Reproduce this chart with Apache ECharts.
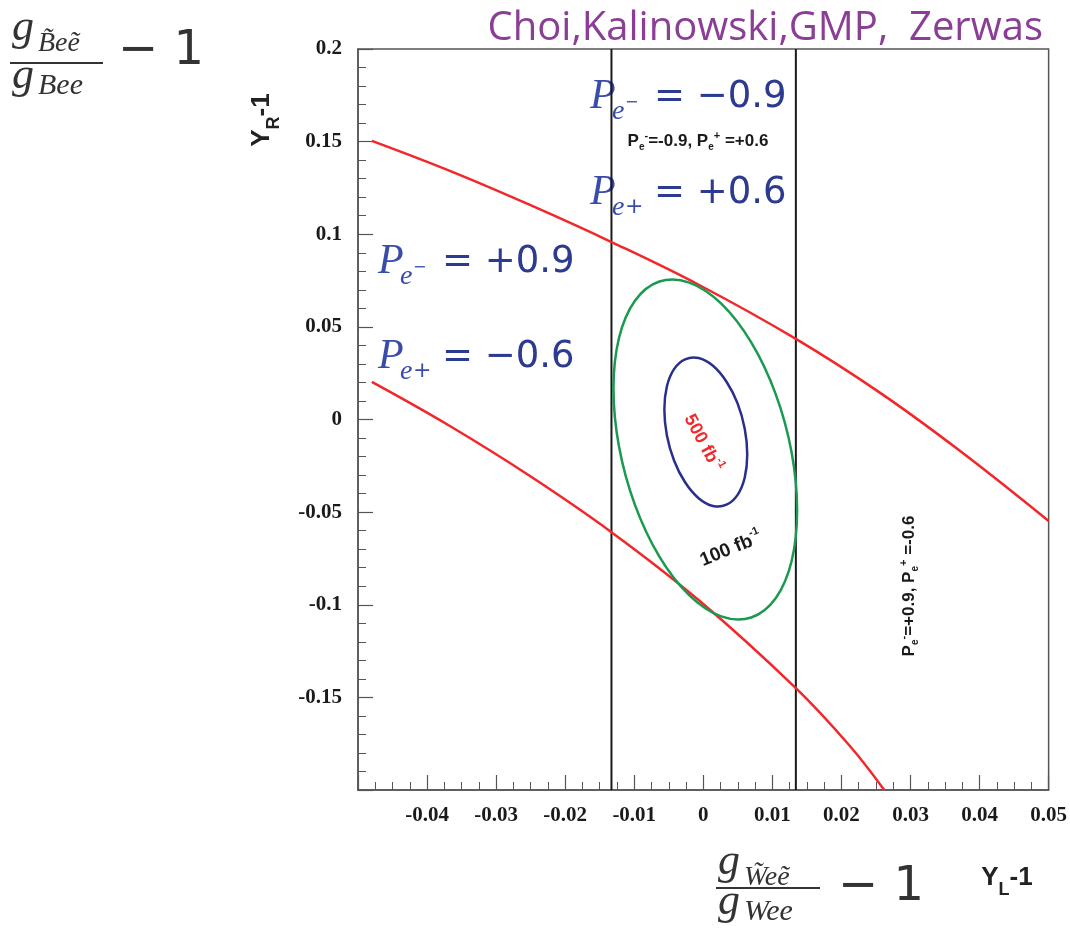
<!DOCTYPE html>
<html><head><meta charset="utf-8">
<script src="https://cdn.jsdelivr.net/npm/echarts@6/dist/echarts.min.js"></script>
<style>html,body{margin:0;padding:0;background:#fff}#c{width:1070px;height:938px}</style>
</head><body><div id="c"></div><script>
// ---- data ----
const xTickLabels = ['-0.04','-0.03','-0.02','-0.01','0','0.01','0.02','0.03','0.04','0.05'];
const yTickLabels = ['-0.15','-0.1','-0.05','0','0.05','0.1','0.15','0.2'];
// P(e-)=+0.9, P(e+)=-0.6 band (red)
const upperBound = [[-0.0480,0.1504],[-0.0367,0.1342],[-0.0251,0.1158],[-0.0133,0.0958],[-0.0006,0.0726],[0.0134,0.0435],[0.0254,0.0149],[0.0370,-0.0165],[0.0500,-0.0548]];
const lowerBound = [[-0.0480,0.0203],[-0.0367,-0.0035],[-0.0251,-0.0305],[-0.0133,-0.0608],[-0.0006,-0.0977],[0.0134,-0.1450],[0.0211,-0.1757],[0.0262,-0.2000]];
// P(e-)=-0.9, P(e+)=+0.6 band (black vertical lines)
const leftBoundX = -0.0133;
const rightBoundX = 0.0134;
// 100 fb^-1 contour (green), closed loop
const contour100 = [[0.01358,-0.0491],[0.01279,-0.0178],[0.01048,0.0137],[0.00694,0.0416],[0.00260,0.0625],[-0.00202,0.0739],[-0.00636,0.0745],[-0.00990,0.0641],[-0.01221,0.0440],[-0.01301,0.0167],[-0.01221,-0.0146],[-0.00990,-0.0461],[-0.00636,-0.0740],[-0.00202,-0.0949],[0.00260,-0.1063],[0.00694,-0.1069],[0.01048,-0.0965],[0.01279,-0.0764]];
// 500 fb^-1 contour (blue), closed loop
const contour500 = [[0.00636,-0.0189],[0.00600,-0.0050],[0.00496,0.0087],[0.00336,0.0204],[0.00140,0.0290],[-0.00068,0.0332],[-0.00264,0.0325],[-0.00424,0.0272],[-0.00528,0.0178],[-0.00564,0.0054],[-0.00528,-0.0085],[-0.00424,-0.0221],[-0.00264,-0.0339],[-0.00068,-0.0425],[0.00140,-0.0467],[0.00336,-0.0460],[0.00496,-0.0407],[0.00600,-0.0313]];

const chart = echarts.init(document.getElementById('c'), null, {renderer:'canvas'});
const tickFont = {fontFamily:'"Liberation Serif", serif', fontWeight:'bold', fontSize:21, color:'#1a1a1a'};
function fmt(list){ return v => { const s = list.find(t => Math.abs(parseFloat(t)-v) < 1e-9); return s === undefined ? '' : s; }; }

const blue = '#3a4caa', blueDark = '#2c3a90';
function pLabel(x, cy, sign, rest){
  return {type:'group', x:x, y:cy, children:[
    {type:'text', x:0, y:0, style:{text:'P', font:'italic 42px "Liberation Serif"', fill:blue, textAlign:'left', textVerticalAlign:'middle', align:'left', verticalAlign:'middle'}},
    {type:'text', x:22, y:15, style:{text:'e', font:'italic 28px "Liberation Serif"', fill:blue, textAlign:'left', textVerticalAlign:'middle', align:'left', verticalAlign:'middle'}},
    {type:'text', x:35, y: sign==='+'?14:6, style:{text:sign==='+'?'+':'\u2212', font: sign==='+'?'22px "DejaVu Sans"':'16px "DejaVu Sans"', fill:blue, textAlign:'left', textVerticalAlign:'middle', align:'left', verticalAlign:'middle'}},
    {type:'text', x:64, y:0, style:{text:rest, font:'37px "DejaVu Sans"', fill:blueDark, textAlign:'left', textVerticalAlign:'middle', align:'left', verticalAlign:'middle'}}
  ]};
}
function txt(x, y, text, font, fill, align){
  return {type:'text', x:x, y:y, style:{text:text, font:font, fill:fill, textAlign:align||'left', align:align||'left', textVerticalAlign:'middle', verticalAlign:'middle'}};
}
const smallRich = {
  b:{fontFamily:'Arial, "Liberation Sans"', fontWeight:'bold', fontSize:17, lineHeight:22, verticalAlign:'middle'},
  sub:{fontFamily:'Arial, "Liberation Sans"', fontWeight:'bold', fontSize:10, lineHeight:22, verticalAlign:'bottom'},
  sup:{fontFamily:'Arial, "Liberation Sans"', fontWeight:'bold', fontSize:11, lineHeight:22, verticalAlign:'top'}
};
function richTxt(x, y, text, rich, fill, rotation){
  return {type:'text', x:x, y:y, rotation:rotation||0, style:{text:text, rich:rich, fill:fill, textAlign:'center', align:'center', textVerticalAlign:'middle', verticalAlign:'middle'}};
}
function fbRich(size, color){
  return {
    n:{fontFamily:'Arial, "Liberation Sans"', fontWeight:'bold', fontSize:size, lineHeight:size+6, color:color, verticalAlign:'middle'},
    s:{fontFamily:'Arial, "Liberation Sans"', fontWeight:'bold', fontSize:Math.round(size*0.6), lineHeight:size+6, color:color, verticalAlign:'top'}
  };
}
const axisNameRich = {b:{fontFamily:'Arial, "Liberation Sans"', fontWeight:'bold', fontSize:26, lineHeight:34, verticalAlign:'top'}, s:{fontFamily:'Arial, "Liberation Sans"', fontWeight:'bold', fontSize:18, lineHeight:34, verticalAlign:'bottom'}};
const serifI = '"Liberation Serif"';
const graphics = [
  // top-left fraction
  txt(12, 28, 'g', 'italic 44px '+serifI, '#333'),
  txt(38, 44, 'B\u0303e\u1EBD', 'italic 28px '+serifI, '#333'),
  {type:'line', shape:{x1:10, y1:63, x2:103, y2:63}, style:{stroke:'#333', lineWidth:2}},
  txt(12, 76, 'g', 'italic 44px '+serifI, '#333'),
  txt(38, 86, 'Bee', 'italic 30px '+serifI, '#333'),
  txt(118, 52, '\u2212 1', '48px "DejaVu Sans"', '#333'),
  // bottom fraction
  txt(718, 862, 'g', 'italic 44px '+serifI, '#333'),
  txt(744, 878, 'W\u0303e\u1EBD', 'italic 28px '+serifI, '#333'),
  {type:'line', shape:{x1:716, y1:888, x2:820, y2:888}, style:{stroke:'#333', lineWidth:2}},
  txt(718, 902, 'g', 'italic 44px '+serifI, '#333'),
  txt(744, 912, 'Wee', 'italic 30px '+serifI, '#333'),
  txt(838, 888, '\u2212 1', '48px "DejaVu Sans"', '#333'),
  // axis names
  richTxt(1007, 882, '{b|Y}{s|L}{b|-1}', axisNameRich, '#222', 0),
  richTxt(266, 120, '{b|Y}{s|R}{b|-1}', axisNameRich, '#222', Math.PI/2),
  // title
  txt(1043, 29, 'Choi,Kalinowski,GMP,  Zerwas', '40px "Open Sans"', '#8a3e95', 'right'),
  // polarisation labels
  pLabel(590, 97, '-', '= \u22120.9'),
  pLabel(590, 193, '+', '= +0.6'),
  pLabel(378, 262, '-', '= +0.9'),
  pLabel(378, 357, '+', '= \u22120.6'),
  richTxt(698, 141, '{b|P}{sub|e}{sup|-}{b|=-0.9, P}{sub|e}{sup|+}{b| =+0.6}', smallRich, '#1a1a1a', 0),
  richTxt(909, 586, '{b|P}{sub|e}{sup|-}{b|=+0.9, P}{sub|e}{sup|+}{b| =-0.6}', smallRich, '#1a1a1a', Math.PI/2),
  // luminosity labels
  richTxt(703, 443, '{n|500 fb}{s|-1}', fbRich(18, '#f02a2a'), '#f02a2a', -1.08),
  richTxt(731, 549, '{n|100 fb}{s|-1}', fbRich(19, '#1a1a1a'), '#1a1a1a', 0.39)
];

const lineSeries = (data, color, width, smooth, z) => ({type:'line', data:data, showSymbol:false, smooth:smooth, lineStyle:{color:color, width:width}, itemStyle:{color:color}, z:z||2, silent:true, clip:true});

// closed smooth contour through the read points, positioned with the axis scales (api.coord)
function contourSeries(points, color, width){
  return {type:'custom', coordinateSystem:'cartesian2d', data:[points[0]], silent:true, z:4, clip:true,
    renderItem:(params, api) => {
      const p = points.map(q => api.coord(q));
      const n = p.length;
      let d = 'M' + p[0][0] + ' ' + p[0][1];
      for (let i = 0; i < n; i++) {
        const p0 = p[(i-1+n)%n], p1 = p[i], p2 = p[(i+1)%n], p3 = p[(i+2)%n];
        const c1 = [p1[0] + (p2[0]-p0[0])/6, p1[1] + (p2[1]-p0[1])/6];
        const c2 = [p2[0] - (p3[0]-p1[0])/6, p2[1] - (p3[1]-p1[1])/6];
        d += ' C' + c1[0] + ' ' + c1[1] + ' ' + c2[0] + ' ' + c2[1] + ' ' + p2[0] + ' ' + p2[1];
      }
      d += ' Z';
      return {type:'path', shape:{pathData:d}, style:{stroke:color, lineWidth:width, fill:null}};
    }};
}

chart.setOption({
  animation:false,
  backgroundColor:'#ffffff',
  grid:{left:358, top:49, width:692, height:741, show:true, borderColor:'#555', borderWidth:1.5, backgroundColor:'transparent'},
  xAxis:{type:'value', min:-0.05, max:0.05, interval:0.01,
    axisLine:{show:true, onZero:false, lineStyle:{color:'#555', width:1.5}},
    axisTick:{show:true, inside:true, length:15, lineStyle:{color:'#555', width:1.2}},
    minorTick:{show:true, splitNumber:4, length:8, lineStyle:{color:'#555', width:1}},
    splitLine:{show:false},
    axisLabel:Object.assign({margin:15, formatter:fmt(xTickLabels)}, tickFont)},
  yAxis:{type:'value', min:-0.2, max:0.2, interval:0.05,
    axisLine:{show:true, onZero:false, lineStyle:{color:'#555', width:1.5}},
    axisTick:{show:true, inside:true, length:15, lineStyle:{color:'#555', width:1.2}},
    minorTick:{show:true, splitNumber:5, length:8, lineStyle:{color:'#555', width:1}},
    splitLine:{show:false},
    axisLabel:Object.assign({margin:16, formatter:fmt(yTickLabels)}, tickFont)},
  series:[
    lineSeries([[leftBoundX,-0.2],[leftBoundX,0.2]], '#1a1a1a', 2, false, 2),
    lineSeries([[rightBoundX,-0.2],[rightBoundX,0.2]], '#1a1a1a', 2, false, 2),
    lineSeries(upperBound, '#f3262a', 2.5, 0.4, 3),
    lineSeries(lowerBound, '#f3262a', 2.5, 0.4, 3),
    contourSeries(contour100, '#1a9a4e', 2.5),
    contourSeries(contour500, '#2b2f8c', 2.5)
  ],
  graphic:graphics
});
</script></body></html>
